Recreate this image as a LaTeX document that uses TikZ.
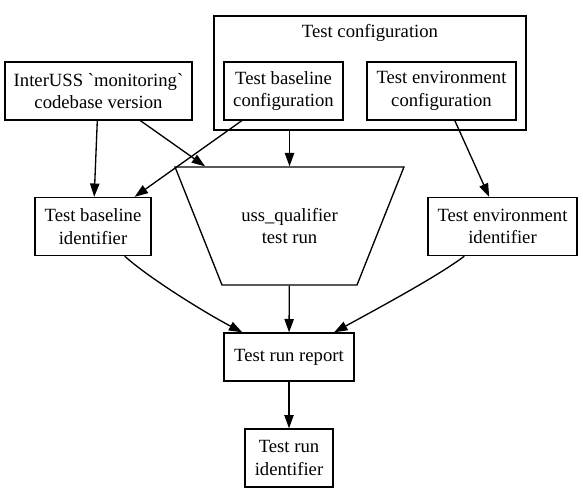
\documentclass[tikz,border=0pt]{standalone}
\usepackage{fontspec}
\setmainfont{Liberation Serif}
\usetikzlibrary{arrows.meta,shapes.geometric}

\tikzset{every picture/.style={line width=1pt}}
\tikzset{
	gvfont/.style={font=\fontsize{14}{17}\selectfont},
	gvbox/.style={draw, rectangle, inner sep=0.75pt, align=center, gvfont, minimum height=43.5pt},
	gvarrow/.style={-{Triangle[length=10pt,width=7pt]}}}

\begin{document}
\begin{tikzpicture}[x=0.75pt,y=0.75pt,yscale=-1,xscale=1]
	\useasboundingbox (0,0) rectangle (583,493); %set diagram at 583 x 493
	
	%Shape: Rectangle [id:cfg] 
	\node [draw, rectangle, inner sep=0pt, minimum width=234pt, minimum height=85.5pt] (cfg) at (370,73) {};
	% Text Node
	\node [inner sep=0.75pt, gvfont] (cfglabel) at (370,33) {Test configuration};
	
	% Text Node
	\node [gvbox, minimum width=140.25pt] (inter) at (98.5,91) {InterUSS \textasciigrave monitoring\textasciigrave\\codebase version};
	% Text Node
	\node [gvbox, minimum width=89.25pt] (bcfg) at (283.5,91) {Test baseline\\configuration};
	% Text Node
	\node [gvbox, minimum width=111.75pt] (ecfg) at (441.5,91) {Test environment\\configuration};
	% Text Node
	\node [gvbox, minimum width=87pt] (bid) at (93,226.5) {Test baseline\\identifier};
	%Shape: Trapezoid [id:qual] 
	\node [draw, trapezium, shape border rotate=180, trapezium left angle=68.3, trapezium right angle=68.3, inner sep=0pt, gvfont] (qual) at (289.5,226) {\parbox[c][88.5pt][c]{101.25pt}{\centering uss\_qualifier\\test run}};
	% Text Node
	\node [gvbox, minimum width=111.75pt] (eid) at (502.5,226.5) {Test environment\\identifier};
	% Text Node
	\node [gvbox, minimum width=97.5pt, minimum height=36pt] (rep) at (289,357) {Test run report};
	% Text Node
	\node [gvbox, minimum width=66pt] (rid) at (289,458) {Test run\\identifier};
	
	%Straight Lines 
	\draw [gvarrow] (inter) -- (bid);
	\draw [gvarrow] (inter) -- (qual);
	\draw [gvarrow] (bcfg) -- (bid);
	\draw [gvarrow] (cfg.south -| qual.north) -- (qual.north);
	\draw [gvarrow] (ecfg) -- (eid);
	%Curve Lines 
	\draw [gvarrow] (bid) .. controls (145,275) and (200,310) .. (rep);
	\draw [gvarrow] (eid) .. controls (440,275) and (375,310) .. (rep);
	%Straight Lines 
	\draw [gvarrow] (qual) -- (rep);
	\draw [gvarrow] (rep) -- (rid);
	
\end{tikzpicture}
\end{document}
